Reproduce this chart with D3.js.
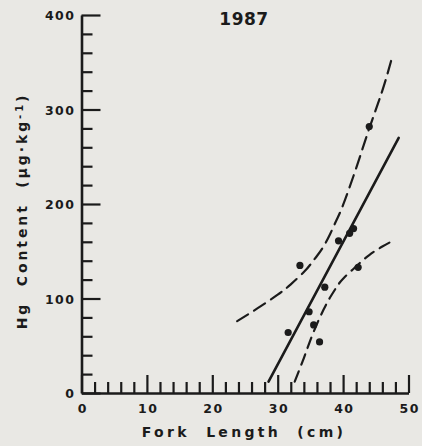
<!DOCTYPE html>
<html>
<head>
<meta charset="utf-8">
<script src="https://cdn.jsdelivr.net/npm/d3@7/dist/d3.min.js"></script>
<style>
  html, body { margin: 0; padding: 0; background: #e9e8e4; }
  svg { display: block; }
  text { font-family: "DejaVu Sans", "Liberation Sans", sans-serif; font-weight: bold; fill: #1b1b1b; }
</style>
</head>
<body>
<svg id="chart" width="422" height="446"></svg>
<script>
// Observed fish: fork length (cm) and Hg content (µg·kg-1)
const forkLength = [31.6, 33.4, 34.8, 35.5, 36.4, 37.2, 39.3, 41.0, 41.6, 42.3, 44.0];
const hgContent  = [64,   135,  86,   72,   54,   112,  161,  169,  174,  133,  282];

// Fitted regression line (end points)
const fitX = [28.6, 48.5];
const fitY = [12,   270];

// Upper confidence band
const upperX = [23.8, 27,  30,  32,  34,  35,  36,  37,  38,  39,  40,  42,  44,  46,  47.6];
const upperY = [76,   90,  104, 115, 128, 136, 145, 155, 168, 183, 199, 238, 280, 320, 358];

// Lower confidence band
const lowerX = [32.6, 34, 35, 36, 37, 38,  39,  40,  42,  44,  46,  47.6];
const lowerY = [12,   37, 56, 73, 88, 101, 112, 121, 134, 146, 155, 161];

// Axis ticks
const xMajorTicks = [0, 10, 20, 30, 40, 50];
const xMinorTicks = d3.range(2, 50, 2).filter(v => v % 10 !== 0);
const yMajorTicks = [0, 100, 200, 300, 400];
const yMinorTicks = d3.range(20, 400, 20).filter(v => v % 100 !== 0);

const title = "1987";
const xTitle = "Fork  Length  (cm)";

const svg = d3.select("#chart");
const ink = "#1b1b1b";

const x = d3.scaleLinear().domain([0, 50]).range([81.5, 408.5]);
const y = d3.scaleLinear().domain([0, 400]).range([393, 15]);

// X axis: ticks point up into the plot
const gx = svg.append("g").attr("transform", `translate(0,${y(0)})`);
gx.call(d3.axisBottom(x).tickValues(xMajorTicks).tickSizeInner(-18).tickSizeOuter(0).tickPadding(11)
  .tickFormat(d3.format("d")));
gx.append("g").call(d3.axisBottom(x).tickValues(xMinorTicks).tickSizeInner(-11).tickSizeOuter(0).tickFormat(""))
  .select(".domain").remove();

// Y axis: ticks point right into the plot
const gy = svg.append("g").attr("transform", `translate(${x(0)},0)`);
gy.call(d3.axisLeft(y).tickValues(yMajorTicks).tickSizeInner(-19).tickSizeOuter(0).tickPadding(6)
  .tickFormat(d3.format("d")));
gy.append("g").call(d3.axisLeft(y).tickValues(yMinorTicks).tickSizeInner(-11).tickSizeOuter(0).tickFormat(""))
  .select(".domain").remove();

svg.selectAll(".domain").attr("stroke", ink).attr("stroke-width", 2.6);
svg.selectAll(".tick line").attr("stroke", ink).attr("stroke-width", 2.2);
svg.selectAll(".tick text")
  .attr("fill", ink)
  .style("font-size", "12.5px")
  .style("letter-spacing", "1.5px")
  .style("font-family", "\"DejaVu Sans\", sans-serif");
gy.selectAll(".tick text").attr("dy", "0.36em");
gx.selectAll(".tick text").attr("dy", "0.71em").attr("dx", "0.75px");

// Confidence bands and fitted line
const line = d3.line().x(d => x(d[0])).y(d => y(d[1])).curve(d3.curveNatural);

svg.append("path")
  .datum(d3.zip(upperX, upperY))
  .attr("d", line)
  .attr("fill", "none").attr("stroke", ink).attr("stroke-width", 2.2)
  .attr("stroke-dasharray", "13,7").attr("stroke-linecap", "round");

svg.append("path")
  .datum(d3.zip(lowerX, lowerY))
  .attr("d", line)
  .attr("fill", "none").attr("stroke", ink).attr("stroke-width", 2.2)
  .attr("stroke-dasharray", "11,7").attr("stroke-linecap", "round");

svg.append("path")
  .datum(d3.zip(fitX, fitY))
  .attr("d", d3.line().x(d => x(d[0])).y(d => y(d[1])))
  .attr("fill", "none").attr("stroke", ink).attr("stroke-width", 2.6).attr("stroke-linecap", "round");

// Observations
svg.append("g").selectAll("circle")
  .data(d3.zip(forkLength, hgContent))
  .join("circle")
  .attr("cx", d => x(d[0]))
  .attr("cy", d => y(d[1]))
  .attr("r", 3.6)
  .attr("fill", ink);

// Year label
svg.append("text")
  .attr("x", 244).attr("y", 25)
  .attr("text-anchor", "middle")
  .style("font-size", "17px")
  .style("letter-spacing", "0.5px")
  .text(title);

// Axis titles
svg.append("text")
  .attr("x", 244).attr("y", 437)
  .attr("text-anchor", "middle")
  .style("font-size", "14px")
  .style("letter-spacing", "3.3px")
  .attr("xml:space", "preserve")
  .text(xTitle);

const yt = svg.append("text")
  .attr("transform", "translate(27,211) rotate(-90)")
  .attr("text-anchor", "middle")
  .style("font-size", "14px")
  .style("letter-spacing", "2.9px")
  .attr("xml:space", "preserve");
yt.append("tspan").text("Hg  Content  (µg·kg");
yt.append("tspan").attr("dy", "-4").style("font-size", "10px").text("-1");
yt.append("tspan").attr("dy", "4").text(")");
</script>
</body>
</html>
